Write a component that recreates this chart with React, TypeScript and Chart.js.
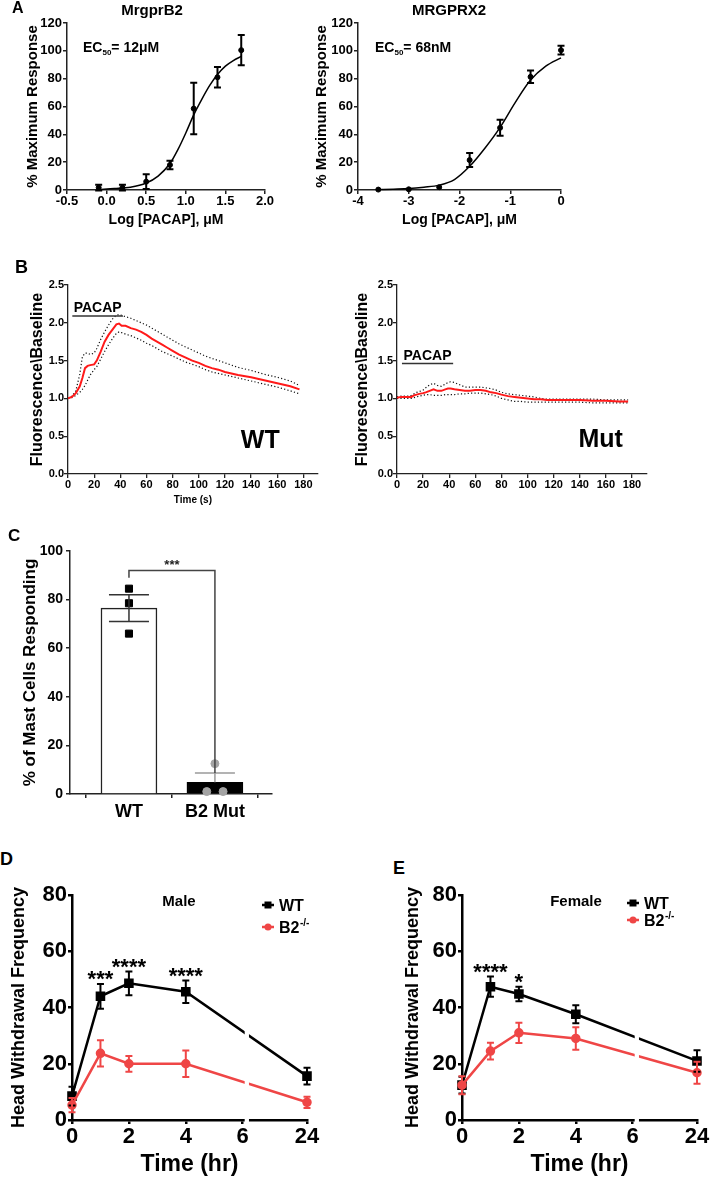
import React, { useEffect, useRef } from "react";
import { Chart, registerables } from "chart.js";

Chart.register(...registerables);

const FF = '"Liberation Sans", Arial, Helvetica, sans-serif';

// ---------- Panel A : concentration–response ----------
const b2LogDose = [-0.1, 0.2, 0.5, 0.8, 1.1, 1.4, 1.7];
const b2Response = [1.7, 1.7, 6, 18, 58.5, 81, 100.5];
const b2Sem = [2, 2, 5.3, 3, 18.5, 7.4, 10.8];
const b2FitLogDose = [-0.1, 0.1, 0.3, 0.5, 0.65, 0.8, 0.9, 1.0, 1.1, 1.2, 1.3, 1.4, 1.5, 1.6, 1.7];
const b2FitResponse = [0.3, 1, 2, 5, 10, 19, 29, 41, 54, 65, 75, 83, 89, 93, 96];
const b2Ec50 = "12μM";

const x2LogDose = [-3.6, -3.0, -2.4, -1.8, -1.2, -0.6, 0];
const x2Response = [0.3, 0.5, 2, 21.5, 44.7, 81.3, 100.5];
const x2Sem = [0, 0, 0, 5, 5.7, 4.5, 3.2];
const x2FitLogDose = [-3.6, -3.3, -3.0, -2.7, -2.4, -2.1, -1.8, -1.5, -1.2, -0.9, -0.6, -0.3, 0];
const x2FitResponse = [0.3, 0.6, 1.0, 2, 3.5, 7.5, 17, 30, 45, 63, 79, 89, 95];
const x2Ec50 = "68nM";

// ---------- Panel B : calcium traces ----------
const traceTicks = [0, 20, 40, 60, 80, 100, 120, 140, 160, 180];
const traceTime = [0, 3, 6, 9, 11, 13, 15, 17, 20, 22, 25, 28, 31, 34, 37, 39, 41, 44, 48, 52, 56, 60, 64, 68, 72, 76, 80, 85, 90, 95, 100, 105, 110, 115, 120, 130, 140, 150, 160, 170, 177];
const wtMean = [1.00, 1.02, 1.07, 1.16, 1.27, 1.40, 1.43, 1.44, 1.45, 1.50, 1.62, 1.75, 1.84, 1.91, 1.98, 1.99, 1.96, 1.96, 1.93, 1.91, 1.88, 1.84, 1.79, 1.75, 1.71, 1.67, 1.63, 1.58, 1.54, 1.50, 1.47, 1.43, 1.40, 1.38, 1.35, 1.31, 1.28, 1.24, 1.20, 1.16, 1.12];
const wtUpper = [1.00, 1.03, 1.10, 1.32, 1.55, 1.60, 1.60, 1.58, 1.60, 1.66, 1.78, 1.88, 1.97, 2.05, 2.10, 2.11, 2.10, 2.08, 2.06, 2.03, 2.00, 1.97, 1.93, 1.89, 1.85, 1.81, 1.77, 1.72, 1.68, 1.64, 1.60, 1.56, 1.53, 1.50, 1.47, 1.41, 1.37, 1.32, 1.28, 1.23, 1.17];
const wtLower = [1.00, 1.01, 1.04, 1.08, 1.12, 1.17, 1.24, 1.31, 1.38, 1.42, 1.52, 1.62, 1.71, 1.79, 1.86, 1.88, 1.87, 1.85, 1.83, 1.80, 1.77, 1.73, 1.70, 1.66, 1.62, 1.59, 1.56, 1.52, 1.48, 1.45, 1.42, 1.38, 1.35, 1.33, 1.31, 1.27, 1.23, 1.19, 1.15, 1.10, 1.06];
const mutMean = [1.01, 1.02, 1.02, 1.02, 1.02, 1.04, 1.05, 1.06, 1.07, 1.08, 1.10, 1.12, 1.10, 1.10, 1.12, 1.13, 1.13, 1.12, 1.11, 1.10, 1.10, 1.11, 1.11, 1.10, 1.08, 1.07, 1.05, 1.03, 1.02, 1.01, 1.00, 0.99, 0.99, 0.98, 0.98, 0.98, 0.98, 0.97, 0.97, 0.96, 0.96];
const mutUpper = [1.02, 1.03, 1.03, 1.03, 1.04, 1.06, 1.08, 1.09, 1.11, 1.14, 1.18, 1.20, 1.17, 1.16, 1.19, 1.21, 1.22, 1.21, 1.18, 1.15, 1.15, 1.15, 1.15, 1.14, 1.13, 1.11, 1.08, 1.06, 1.05, 1.04, 1.03, 1.02, 1.00, 0.99, 0.99, 0.99, 0.99, 0.99, 0.98, 0.98, 0.98];
const mutLower = [1.00, 1.00, 1.00, 1.00, 1.00, 1.01, 1.02, 1.03, 1.04, 1.05, 1.05, 1.04, 1.04, 1.04, 1.05, 1.05, 1.05, 1.05, 1.06, 1.06, 1.07, 1.07, 1.07, 1.06, 1.05, 1.03, 1.00, 0.98, 0.96, 0.96, 0.95, 0.95, 0.95, 0.95, 0.95, 0.95, 0.95, 0.94, 0.94, 0.94, 0.94];

// ---------- Panel C : % responding ----------
const cGroups = ["WT", "B2 Mut"];
const cMeans = [76.5, 4.8];
const cSem = [5.5, 3.8];
const cWtCells = [84.5, 78.5, 66];
const cMutCells = [12.5, 1, 1];

// ---------- Panels D/E : head withdrawal ----------
const hwTimes = [0, 1, 2, 4, 24];
const hwTicks = [0, 2, 4, 6, 24];
const maleWT = [8.5, 44, 48.6, 45.6, 15.6];
const maleWTSem = [3.3, 4.4, 4.2, 4, 3];
const maleKO = [5.3, 23.7, 20, 20, 6.3];
const maleKOSem = [2.5, 4.7, 2.8, 4.7, 2];
const maleStars = ["", "***", "****", "****", ""];
const femaleWT = [12.4, 47.4, 44.8, 37.6, 21];
const femaleWTSem = [3, 3.6, 2.6, 3.2, 3.8];
const femaleKO = [12.4, 24.5, 31, 29, 16.8];
const femaleKOSem = [3.2, 3, 3.6, 4, 3.9];
const femaleStars = ["", "****", "*", "", ""];

// broken time axis: 0–6 h linear, then compressed after the break
const hourToAxis = (t: number) => (t <= 6 ? t : 6 + 0.26 + (t - 6) * (2 / 18));

type Box = { x: number; y: number; w: number; h: number };
type Area = { l: number; t: number; r: number; b: number };

function frame(box: Box, area: Area) {
  return {
    padding: { left: 0, top: area.t - box.y, right: box.x + box.w - area.r, bottom: 0 },
    yW: area.l - box.x,
    xH: box.y + box.h - area.b,
  };
}

const bf = (size: number) => ({ family: FF, size, weight: "bold" as any });

function txt(ctx: any, s: string, x: number, y: number, size: number, align: any = "center", color = "#000") {
  ctx.save();
  ctx.font = `bold ${size}px ${FF}`;
  ctx.fillStyle = color;
  ctx.textAlign = align;
  ctx.textBaseline = "alphabetic";
  ctx.fillText(s, x, y);
  const w = ctx.measureText(s).width;
  ctx.restore();
  return w;
}

function errorBars(chart: any, xs: number[], ys: number[], errs: number[], o: { color: string; width: number; cap: number; upOnly?: boolean }) {
  const { ctx } = chart;
  const sx = chart.scales.x;
  const sy = chart.scales.y;
  ctx.save();
  ctx.strokeStyle = o.color;
  ctx.lineWidth = o.width;
  for (let i = 0; i < xs.length; i++) {
    const e = errs[i];
    if (!e) continue;
    const x = sx.getPixelForValue(xs[i]);
    const top = sy.getPixelForValue(ys[i] + e);
    const bot = sy.getPixelForValue(o.upOnly ? ys[i] : ys[i] - e);
    ctx.beginPath();
    ctx.moveTo(x, top);
    ctx.lineTo(x, bot);
    ctx.moveTo(x - o.cap, top);
    ctx.lineTo(x + o.cap, top);
    if (!o.upOnly) {
      ctx.moveTo(x - o.cap, bot);
      ctx.lineTo(x + o.cap, bot);
    }
    ctx.stroke();
  }
  ctx.restore();
}

const baseOpts = (f: any) => ({
  animation: false,
  responsive: false,
  maintainAspectRatio: false,
  events: [],
  layout: { padding: f.padding },
  plugins: { legend: { display: false }, tooltip: { enabled: false }, title: { display: false } },
});

function axisStyle(color: string, width: number, tickLength: number) {
  return {
    grid: { drawOnChartArea: false, drawTicks: true, tickLength, color, lineWidth: width },
    border: { display: true, color, width },
  };
}

// ---------- Panel A config ----------
function doseConfig(p: any) {
  const f = frame(p.box, p.area);
  const deco = {
    id: "doseDeco",
    afterDatasetsDraw(chart: any) {
      const ctx = chart.ctx;
      const a = chart.chartArea;
      errorBars(chart, p.dose, p.resp, p.sem, { color: "#000", width: 2, cap: 3.5 });
      txt(ctx, p.name, a.left + p.nameDx, 15, 15);
      let x = a.left + p.ecDx;
      const y = a.top + 29;
      x += txt(ctx, "EC", x, y, 14, "left");
      x += txt(ctx, "50", x, y + 3, 8, "left");
      txt(ctx, "= " + p.ec50, x, y, 14, "left");
    },
  };
  return {
    type: "scatter",
    data: {
      datasets: [
        {
          type: "line",
          data: p.fitX.map((x: number, i: number) => ({ x, y: p.fitY[i] })),
          borderColor: "#000",
          borderWidth: 1.5,
          pointRadius: 0,
          cubicInterpolationMode: "monotone",
          fill: false,
          clip: false,
        },
        {
          type: "scatter",
          data: p.dose.map((x: number, i: number) => ({ x, y: p.resp[i] })),
          pointRadius: 2.5,
          backgroundColor: "#000",
          borderColor: "#000",
          clip: false,
        },
      ],
    },
    options: {
      ...baseOpts(f),
      scales: {
        x: {
          type: "linear",
          min: p.xMin,
          max: p.xMax,
          afterFit: (s: any) => { s.height = f.xH; },
          ticks: { stepSize: p.xStep, color: "#000", font: bf(13), padding: 0, maxRotation: 0, autoSkip: false, callback: (v: any) => Number(v).toFixed(p.decimals) },
          ...axisStyle("#222", 1.5, 4),
          title: { display: true, text: "Log [PACAP], μM", color: "#000", font: bf(14), padding: { top: 0, bottom: 3.6 } },
        },
        y: {
          type: "linear",
          min: 0,
          max: 120,
          afterFit: (s: any) => { s.width = f.yW; },
          ticks: { stepSize: 20, color: "#000", font: bf(13), padding: 1 },
          ...axisStyle("#222", 1.5, 4),
          title: { display: true, text: "% Maximum Response", color: "#000", font: bf(15), padding: { top: p.yTitlePad, bottom: 0 } },
        },
      },
    },
    plugins: [deco],
  };
}

// ---------- Panel B config ----------
function traceConfig(p: any) {
  const f = frame(p.box, p.area);
  const pts = (ys: number[]) => traceTime.map((t, i) => ({ x: t, y: ys[i] }));
  const deco = {
    id: "traceDeco",
    afterDatasetsDraw(chart: any) {
      const ctx = chart.ctx;
      const sx = chart.scales.x;
      const sy = chart.scales.y;
      const x0 = sx.getPixelForValue(p.pacap[0]);
      const x1 = sx.getPixelForValue(p.pacap[1]);
      const yb = sy.getPixelForValue(p.pacap[2]);
      ctx.save();
      ctx.strokeStyle = "#333";
      ctx.lineWidth = 1.5;
      ctx.beginPath();
      ctx.moveTo(x0, yb);
      ctx.lineTo(x1, yb);
      ctx.stroke();
      ctx.restore();
      txt(ctx, "PACAP", (x0 + x1) / 2, yb - 4, 14);
      txt(ctx, p.tag, sx.getPixelForValue(p.tagAt[0]), sy.getPixelForValue(p.tagAt[1]), 25);
    },
  };
  const dotted = { borderColor: "#111", borderWidth: 1.2, borderDash: [1.2, 2.2], pointRadius: 0, order: 1, tension: 0, fill: false };
  return {
    type: "line",
    data: {
      datasets: [
        { data: pts(p.mean), borderColor: "#ff1a1a", borderWidth: 2, pointRadius: 0, order: 0, tension: 0, fill: false },
        { data: pts(p.upper), ...dotted },
        { data: pts(p.lower), ...dotted },
      ],
    },
    options: {
      ...baseOpts(f),
      scales: {
        x: {
          type: "linear",
          min: 0,
          max: 191,
          afterFit: (s: any) => { s.height = f.xH; },
          afterBuildTicks: (s: any) => { s.ticks = traceTicks.map((v) => ({ value: v })); },
          ticks: { color: "#000", font: bf(11), padding: 0, maxRotation: 0, autoSkip: false, callback: (_v: any, i: number) => String(traceTicks[i]) },
          ...axisStyle("#222", 1.3, 4),
          title: { display: p.showXTitle, text: "Time (s)", color: "#000", font: bf(10), padding: { top: 0, bottom: 4 } },
        },
        y: {
          type: "linear",
          min: 0,
          max: 2.5,
          afterFit: (s: any) => { s.width = f.yW; },
          ticks: { stepSize: 0.5, color: "#000", font: bf(11), padding: 0, callback: (v: any) => Number(v).toFixed(1) },
          ...axisStyle("#222", 1.3, 4),
          title: { display: true, text: "Fluorescence\\Baseline", color: "#000", font: bf(16), padding: { top: p.yTitlePad, bottom: 0 } },
        },
      },
    },
    plugins: [deco],
  };
}

// spread identical values sideways (scatter jitter)
function spread(vals: number[], center: number, step: number) {
  return vals.map((v, i) => {
    const same = vals.map((w, j) => [w, j]).filter(([w]) => w === v);
    const k = same.findIndex(([, j]) => j === i);
    return center + (k - (same.length - 1) / 2) * step;
  });
}

// ---------- Panel C config ----------
function barConfig(box: Box, area: Area) {
  const f = frame(box, area);
  const wtX = spread(cWtCells, 0, 0.19);
  const mutX = spread(cMutCells, 1, 0.19);
  const deco = {
    id: "barDeco",
    afterDatasetsDraw(chart: any) {
      const ctx = chart.ctx;
      const sx = chart.scales.x;
      const sy = chart.scales.y;
      errorBars(chart, [0], [cMeans[0]], [cSem[0]], { color: "#333", width: 1.5, cap: 20 });
      errorBars(chart, [1], [cMeans[1]], [cSem[1]], { color: "#9a9a9a", width: 1.5, cap: 20, upOnly: true });
      const xa = sx.getPixelForValue(0);
      const xb = sx.getPixelForValue(1);
      const yt = sy.getPixelForValue(92);
      ctx.save();
      ctx.strokeStyle = "#444";
      ctx.lineWidth = 1.5;
      ctx.beginPath();
      ctx.moveTo(xa, sy.getPixelForValue(89));
      ctx.lineTo(xa, yt);
      ctx.lineTo(xb, yt);
      ctx.lineTo(xb, sy.getPixelForValue(cMeans[1] + cSem[1]));
      ctx.stroke();
      ctx.restore();
      txt(ctx, "***", (xa + xb) / 2, yt - 1, 13, "center", "#222");
    },
  };
  return {
    type: "bar",
    data: {
      datasets: [
        {
          type: "bar",
          data: cMeans.map((y, i) => ({ x: i, y })),
          backgroundColor: ["#ffffff", "#000000"],
          borderColor: ["#222", "#000"],
          borderWidth: 1.5,
          barThickness: 56,
          order: 2,
        },
        {
          type: "scatter",
          data: cWtCells.map((y, i) => ({ x: wtX[i], y })),
          pointStyle: "rect",
          pointRadius: 5,
          backgroundColor: "#000",
          borderColor: "#000",
          order: 1,
          clip: false,
        },
        {
          type: "scatter",
          data: cMutCells.map((y, i) => ({ x: mutX[i], y })),
          pointStyle: "circle",
          pointRadius: 4,
          backgroundColor: "#a3a3a3",
          borderColor: "#a3a3a3",
          order: 1,
          clip: false,
        },
      ],
    },
    options: {
      ...baseOpts(f),
      scales: {
        x: {
          type: "linear",
          min: -0.686,
          max: 1.664,
          offset: false,
          afterFit: (s: any) => { s.height = f.xH; },
          afterBuildTicks: (s: any) => { s.ticks = cGroups.map((_, i) => ({ value: i })); },
          ticks: { color: "#000", font: bf(18), padding: 3, maxRotation: 0, autoSkip: false, callback: (v: any) => cGroups[Math.round(Number(v))] },
          ...axisStyle("#222", 1.5, 4),
        },
        y: {
          type: "linear",
          min: 0,
          max: 100,
          afterFit: (s: any) => { s.width = f.yW; },
          ticks: { stepSize: 20, color: "#000", font: bf(14), padding: 3 },
          ...axisStyle("#222", 1.5, 4),
          title: { display: true, text: "% of Mast Cells Responding", color: "#000", font: bf(17), padding: { top: 19.8, bottom: 0 } },
        },
      },
    },
    plugins: [deco],
  };
}

// ---------- Panels D/E config ----------
const RED = "#ef4646";
function hwConfig(p: any) {
  const f = frame(p.box, p.area);
  const xs = hwTimes.map(hourToAxis);
  const deco = {
    id: "hwDeco",
    afterDatasetsDraw(chart: any) {
      const ctx = chart.ctx;
      const a = chart.chartArea;
      const sx = chart.scales.x;
      const sy = chart.scales.y;
      // axis break
      const bx0 = sx.getPixelForValue(6.07);
      const bx1 = sx.getPixelForValue(6.22);
      ctx.save();
      ctx.fillStyle = "#fff";
      ctx.fillRect(bx0, a.top, bx1 - bx0, a.bottom - a.top + 3);
      ctx.restore();
      errorBars(chart, xs, p.wt, p.wtSem, { color: "#000", width: 2, cap: 3.5 });
      errorBars(chart, xs, p.ko, p.koSem, { color: RED, width: 2, cap: 3.5 });
      p.stars.forEach((s: string, i: number) => {
        if (!s) return;
        txt(ctx, s, sx.getPixelForValue(xs[i]), sy.getPixelForValue(p.wt[i] + p.wtSem[i]) + 2, 22);
      });
      txt(ctx, p.sex, a.left + p.sexDx, a.top + 11, 15);
      // legend
      const cx = a.left + p.legDx;
      const drawKey = (y: number, color: string, square: boolean) => {
        ctx.save();
        ctx.strokeStyle = color;
        ctx.fillStyle = color;
        ctx.lineWidth = 2.5;
        ctx.beginPath();
        ctx.moveTo(cx - 6, y);
        ctx.lineTo(cx + 6, y);
        ctx.stroke();
        ctx.beginPath();
        if (square) ctx.rect(cx - 3.5, y - 3.5, 7, 7);
        else ctx.arc(cx, y, 3.5, 0, Math.PI * 2);
        ctx.fill();
        ctx.restore();
      };
      const y1 = a.top + p.legDy[0];
      const y2 = a.top + p.legDy[1];
      drawKey(y1, "#000", true);
      txt(ctx, "WT", cx + 11, y1 + 5.7, 16, "left");
      drawKey(y2, RED, false);
      const w = txt(ctx, "B2", cx + 11, y2 + 5.7, 16, "left");
      txt(ctx, "-/-", cx + 11 + w + 0.5, y2 - 1.5, 10, "left");
    },
  };
  return {
    type: "line",
    data: {
      datasets: [
        {
          data: xs.map((x, i) => ({ x, y: p.ko[i] })),
          borderColor: RED,
          backgroundColor: RED,
          borderWidth: 2.5,
          pointStyle: "circle",
          pointRadius: 3.5,
          tension: 0,
          order: 0,
          clip: false,
        },
        {
          data: xs.map((x, i) => ({ x, y: p.wt[i] })),
          borderColor: "#000",
          backgroundColor: "#000",
          borderWidth: 2.5,
          pointStyle: "rect",
          pointRadius: 5,
          tension: 0,
          order: 1,
          clip: false,
        },
      ],
    },
    options: {
      ...baseOpts(f),
      scales: {
        x: {
          type: "linear",
          min: 0,
          max: hourToAxis(24),
          afterFit: (s: any) => { s.height = f.xH; },
          afterBuildTicks: (s: any) => { s.ticks = hwTicks.map((t) => ({ value: hourToAxis(t) })); },
          ticks: { color: "#000", font: bf(22), padding: 0, maxRotation: 0, autoSkip: false, callback: (_v: any, i: number) => String(hwTicks[i]) },
          ...axisStyle("#000", 2.5, 4),
          title: { display: true, text: "Time (hr)", color: "#000", font: bf(23), padding: { top: 0, bottom: 1.2 } },
        },
        y: {
          type: "linear",
          min: 0,
          max: 80,
          afterFit: (s: any) => { s.width = f.yW; },
          ticks: { stepSize: 20, color: "#000", font: bf(22), padding: 1 },
          ...axisStyle("#000", 2.5, 4),
          title: { display: true, text: "Head Withdrawal Frequency", color: "#000", font: bf(18), padding: { top: p.yTitlePad, bottom: 0 } },
        },
      },
    },
    plugins: [deco],
  };
}

function ChartCanvas({ box, config }: { box: Box; config: () => any }) {
  const ref = useRef<HTMLCanvasElement | null>(null);
  useEffect(() => {
    if (!ref.current) return;
    const chart = new Chart(ref.current, config());
    return () => chart.destroy();
  }, []);
  return (
    <canvas
      ref={ref}
      width={box.w}
      height={box.h}
      style={{ position: "absolute", left: box.x, top: box.y, width: box.w, height: box.h }}
    />
  );
}

const boxA1: Box = { x: 0, y: 0, w: 290, h: 232 };
const boxA2: Box = { x: 300, y: 0, w: 290, h: 232 };
const boxB1: Box = { x: 0, y: 250, w: 340, h: 260 };
const boxB2: Box = { x: 345, y: 250, w: 330, h: 260 };
const boxC: Box = { x: 0, y: 520, w: 300, h: 310 };
const boxD: Box = { x: 0, y: 880, w: 330, h: 300 };
const boxE: Box = { x: 380, y: 880, w: 330, h: 300 };

const letters = [
  { ch: "A", x: 12, y: -0.5, size: 16 },
  { ch: "B", x: 15, y: 258, size: 18 },
  { ch: "C", x: 8, y: 527, size: 17 },
  { ch: "D", x: 0, y: 850, size: 18 },
  { ch: "E", x: 393, y: 859, size: 18 },
];

export default function App() {
  return (
    <div style={{ position: "absolute", left: 0, top: 0, width: 710, height: 1180, background: "#fff", overflow: "hidden" }}>
      <ChartCanvas
        box={boxA1}
        config={() =>
          doseConfig({
            box: boxA1, area: { l: 67, t: 23, r: 265, b: 190 }, name: "MrgprB2", nameDx: 85, ecDx: 16, ec50: b2Ec50,
            dose: b2LogDose, resp: b2Response, sem: b2Sem, fitX: b2FitLogDose, fitY: b2FitResponse,
            xMin: -0.5, xMax: 2.0, xStep: 0.5, decimals: 1, yTitlePad: 24,
          })
        }
      />
      <ChartCanvas
        box={boxA2}
        config={() =>
          doseConfig({
            box: boxA2, area: { l: 358, t: 23, r: 561, b: 190 }, name: "MRGPRX2", nameDx: 91, ecDx: 17, ec50: x2Ec50,
            dose: x2LogDose, resp: x2Response, sem: x2Sem, fitX: x2FitLogDose, fitY: x2FitResponse,
            xMin: -4, xMax: 0, xStep: 1, decimals: 0, yTitlePad: 13,
          })
        }
      />
      <ChartCanvas
        box={boxB1}
        config={() =>
          traceConfig({
            box: boxB1, area: { l: 68, t: 285, r: 317.8, b: 474 }, mean: wtMean, upper: wtUpper, lower: wtLower,
            pacap: [3.3, 42, 2.09], tag: "WT", tagAt: [147, 0.34], showXTitle: true, yTitlePad: 28.4,
          })
        }
      />
      <ChartCanvas
        box={boxB2}
        config={() =>
          traceConfig({
            box: boxB2, area: { l: 397, t: 285, r: 646.4, b: 474 }, mean: mutMean, upper: mutUpper, lower: mutLower,
            pacap: [3.8, 43, 1.46], tag: "Mut", tagAt: [156, 0.36], showXTitle: false, yTitlePad: 8.4,
          })
        }
      />
      <ChartCanvas box={boxC} config={() => barConfig(boxC, { l: 70, t: 551, r: 272, b: 794 })} />
      <ChartCanvas
        box={boxD}
        config={() =>
          hwConfig({
            box: boxD, area: { l: 72, t: 895, r: 307, b: 1120 }, wt: maleWT, wtSem: maleWTSem, ko: maleKO, koSem: maleKOSem,
            stars: maleStars, sex: "Male", sexDx: 107, legDx: 196, legDy: [10, 32], yTitlePad: 8.2,
          })
        }
      />
      <ChartCanvas
        box={boxE}
        config={() =>
          hwConfig({
            box: boxE, area: { l: 462, t: 895, r: 697, b: 1120 }, wt: femaleWT, wtSem: femaleWTSem, ko: femaleKO, koSem: femaleKOSem,
            stars: femaleStars, sex: "Female", sexDx: 114, legDx: 171, legDy: [8, 25], yTitlePad: 22.2,
          })
        }
      />
      {letters.map((l) => (
        <div
          key={l.ch}
          style={{ position: "absolute", left: l.x, top: l.y, font: `bold ${l.size}px ${FF}`, lineHeight: `${l.size}px`, color: "#000" }}
        >
          {l.ch}
        </div>
      ))}
    </div>
  );
}
